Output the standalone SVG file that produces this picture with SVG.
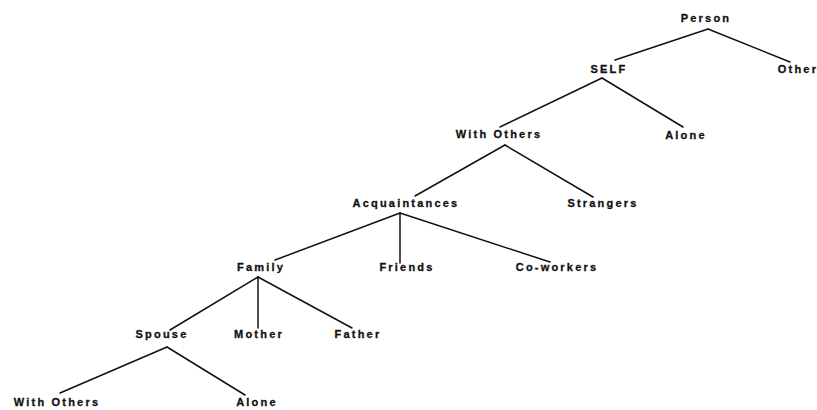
<svg xmlns="http://www.w3.org/2000/svg" width="817" height="410" viewBox="0 0 817 410">
  <style>
    .lbl { font-family: "Liberation Sans", Arial, sans-serif; font-size: 11px; font-weight: bold; fill: #111; stroke: #111; stroke-width: 0.3; text-anchor: middle; letter-spacing: 2.2px; }
    .edge { stroke: #111; stroke-width: 1.5; fill: none; stroke-linecap: round; }
  </style>
  <rect width="817" height="410" fill="#fff"/>

  <!-- tree branches -->
  <g id="connectors">
    <path class="edge" d="M708 29 L615 60"/>
    <path class="edge" d="M708 29 L790 62"/>
    <path class="edge" d="M602 78 L500 127"/>
    <path class="edge" d="M602 78 L683 127"/>
    <path class="edge" d="M505 145 L415 196"/>
    <path class="edge" d="M505 145 L593 197"/>
    <path class="edge" d="M400 213 L275 260"/>
    <path class="edge" d="M400 213 L400 263"/>
    <path class="edge" d="M400 213 L550 262"/>
    <path class="edge" d="M258 277 L170 330"/>
    <path class="edge" d="M258 277 L258 328"/>
    <path class="edge" d="M258 277 L352 328"/>
    <path class="edge" d="M167 347 L60 393"/>
    <path class="edge" d="M167 347 L245 395"/>
  </g>

  <g id="person"><text class="lbl" x="706" y="22">Person</text></g>
  <g id="self"><text class="lbl" x="609" y="73">SELF</text></g>
  <g id="other"><text class="lbl" x="798" y="73">Other</text></g>
  <g id="with-others"><text class="lbl" x="499" y="138">With Others</text></g>
  <g id="alone"><text class="lbl" x="686" y="139">Alone</text></g>
  <g id="acquaintances"><text class="lbl" x="406" y="207">Acquaintances</text></g>
  <g id="strangers"><text class="lbl" x="603" y="207">Strangers</text></g>
  <g id="family"><text class="lbl" x="261" y="271">Family</text></g>
  <g id="friends"><text class="lbl" x="407" y="271">Friends</text></g>
  <g id="co-workers"><text class="lbl" x="557" y="271">Co-workers</text></g>
  <g id="spouse"><text class="lbl" x="162" y="338">Spouse</text></g>
  <g id="mother"><text class="lbl" x="259" y="338">Mother</text></g>
  <g id="father"><text class="lbl" x="358" y="338">Father</text></g>
  <g id="spouse-with-others"><text class="lbl" x="57" y="406">With Others</text></g>
  <g id="spouse-alone"><text class="lbl" x="257" y="406">Alone</text></g>
</svg>
